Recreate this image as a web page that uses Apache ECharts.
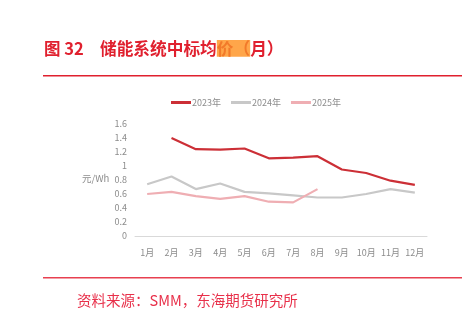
<!DOCTYPE html>
<html><head><meta charset="utf-8">
<script src="https://cdn.jsdelivr.net/npm/echarts@6/dist/echarts.min.js"></script>
<style>html,body{margin:0;padding:0;background:#fff}#c{width:472px;height:332px}</style>
</head><body><div id="c"></div>
<script>
const months = ['1月','2月','3月','4月','5月','6月','7月','8月','9月','10月','11月','12月'];
const s2023 = [null,1.40,1.24,1.235,1.25,1.11,1.12,1.14,0.95,0.90,0.79,0.73];
const s2024 = [0.74,0.85,0.67,0.75,0.63,0.61,0.58,0.55,0.55,0.60,0.67,0.62];
const s2025 = [0.60,0.63,0.57,0.53,0.57,0.49,0.48,0.67];
const seriesNames = ['2023年','2024年','2025年'];
const yTicks = [0,0.2,0.4,0.6,0.8,1,1.2,1.4,1.6];
const titleText = ['图 32','储能系统中标均','价（','月）'];
const sourceText = '资料来源：SMM，东海期货研究所';
const yName = '元/Wh';

const colors = ['#cc2f36','#c8c8c8','#efaeb3'];
const font = '"Noto Sans CJK SC", sans-serif';
const chart = echarts.init(document.getElementById('c'), null, {renderer:'canvas'});
chart.setOption({
  animation:false,
  color:colors,
  textStyle:{fontFamily:font},
  grid:{left:135,right:45,top:124,bottom:96},
  legend:{
    top:98,left:171,padding:0,itemWidth:20,itemHeight:3,itemGap:10,icon:'rect',
    textStyle:{fontSize:9,color:'#8c8c8c',fontFamily:font,padding:[0,0,0,-4]},
    data:seriesNames
  },
  xAxis:{
    type:'category',data:months,boundaryGap:true,
    axisLine:{lineStyle:{color:'#d9d9d9'}},axisTick:{show:false},
    axisLabel:{fontSize:9,color:'#8c8c8c',margin:12,interval:0}
  },
  yAxis:{
    type:'value',min:yTicks[0],max:yTicks[yTicks.length-1],interval:0.2,
    splitLine:{show:false},axisLine:{show:false},axisTick:{show:false},
    axisLabel:{fontSize:9,color:'#8c8c8c',margin:8,formatter:v=>String(Math.round(v*10)/10)}
  },
  series:[
    {name:seriesNames[0],type:'line',data:s2023,symbol:'none',lineStyle:{width:2.2}},
    {name:seriesNames[1],type:'line',data:s2024,symbol:'none',lineStyle:{width:2.2}},
    {name:seriesNames[2],type:'line',data:s2025,symbol:'none',lineStyle:{width:2.2}}
  ],
  graphic:[
    {type:'text',left:44,top:40,style:{text:titleText[0],fontSize:16.5,fontWeight:'bold',fill:'#e0202e',fontFamily:font}},
    {type:'text',left:100,top:40,style:{
      text:'{a|'+titleText[1]+'}{h|'+titleText[2]+'}{a|'+titleText[3]+'}',
      rich:{
        a:{fontSize:16.7,fontWeight:'bold',fill:'#e0202e',fontFamily:font},
        h:{fontSize:16.7,fontWeight:'bold',fill:'#f27a2a',backgroundColor:'#ffa64a',fontFamily:font}
      }}},
    {type:'rect',shape:{x:43,y:75,width:419,height:1.5},style:{fill:'#e0202e'}},
    {type:'rect',shape:{x:43,y:277,width:419,height:1.5},style:{fill:'#e84050'}},
    {type:'text',left:77,top:293,style:{text:sourceText,fontSize:14.5,fill:'#e8304a',fontFamily:font}},
    {type:'text',left:82,top:174,style:{text:yName,fontSize:9.5,fill:'#8c8c8c',fontFamily:font}}
  ]
});
</script></body></html>
